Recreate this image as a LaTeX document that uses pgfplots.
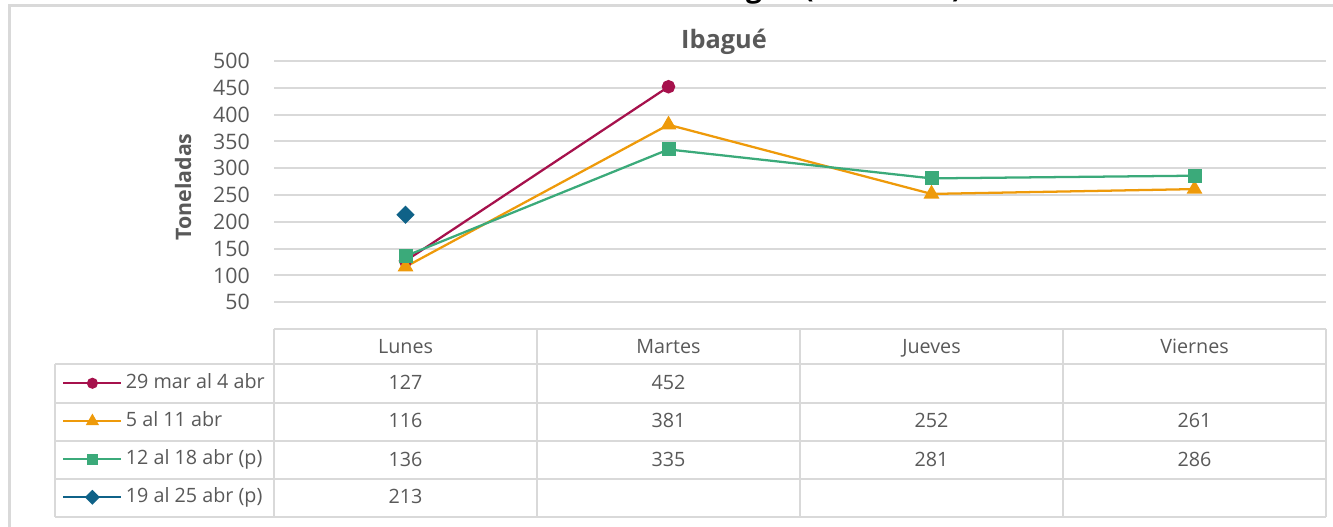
\documentclass[border=0pt]{standalone}
\usepackage{pgfplots}
\pgfplotsset{compat=1.18}
\usepackage{fontspec}
\setmainfont{Open Sans}
\definecolor{txt}{HTML}{595959}
\definecolor{gridc}{HTML}{D9D9D9}
\definecolor{cA}{HTML}{A6114C}
\definecolor{cB}{HTML}{EE9A0A}
\definecolor{cC}{HTML}{3BAA7A}
\definecolor{cD}{HTML}{0F6288}
\begin{document}
\begin{tikzpicture}
\begin{scope}[x=0.75pt,y=0.75pt]
\useasboundingbox (0,0) rectangle (1333,527);
% outer frame
\draw[gridc, line width=2.25pt] (9.5,-20) -- (9.5,521) -- (1360,521);
% cut-off main title
\node[anchor=base west, font=\bfseries\fontsize{21}{21}\selectfont, text=black, inner sep=0pt] at (702,529) {Ibagué (toneladas)};
% chart title
\node[font=\bfseries\fontsize{19}{19}\selectfont, text=txt] at (724,485) {Ibagué};
% y label
\node[rotate=90, font=\bfseries\fontsize{16}{16}\selectfont, text=txt] at (183,340) {Toneladas};
% data table grid
\draw[gridc, line width=1.5pt] (274,198) -- (1326,198);
\foreach \yy in {163,124,86,48,10} {\draw[gridc, line width=1.5pt] (55,\yy) -- (1326,\yy);}
\draw[gridc, line width=1.5pt] (55,163) -- (55,10);
\foreach \xx in {274,537,800,1063,1326} {\draw[gridc, line width=1.5pt] (\xx,198) -- (\xx,10);}
% table text
\begin{scope}[every node/.style={anchor=base, font=\fontsize{14.8}{14.8}\selectfont, text=txt, inner sep=0pt}]
\node at (405.5,173) {Lunes};
\node at (668.5,173) {Martes};
\node at (931.5,173) {Jueves};
\node at (1194.5,173) {Viernes};
\node at (405.5,137) {127};
\node at (668.5,137) {452};
\node at (405.5,99) {116};
\node at (668.5,99) {381};
\node at (931.5,99) {252};
\node at (1194.5,99) {261};
\node at (405.5,60) {136};
\node at (668.5,60) {335};
\node at (931.5,60) {281};
\node at (1194.5,60) {286};
\node at (405.5,23) {213};
\end{scope}
\end{scope}
\begin{axis}[
  at={(205.5pt,148.5pt)}, anchor=south west,
  scale only axis, width=789pt, height=201pt,
  xmin=-0.5, xmax=3.5, ymin=0, ymax=500,
  ytick={50,100,...,500}, xtick=\empty,
  axis line style={draw=none}, major tick length=0pt,
  ymajorgrids, grid style={gridc, line width=1.5pt},
  yticklabel style={font=\fontsize{16}{16}\selectfont, text=txt, inner sep=0pt, xshift=-18pt},
  /pgf/number format/assume math mode=true,
  clip=false,
  legend cell align=left,
  legend image code/.code={\draw[mark repeat=2,mark phase=2,every mark/.append style={scale=0.78}] plot coordinates {(0pt,0pt)(21.75pt,0pt)(43.5pt,0pt)};},
  legend style={at={(axis description cs:-0.2015,-0.1306)}, anchor=north west, draw=none, fill=none, inner sep=0pt, row sep=0pt,
    font=\fontsize{14.8}{14.8}\selectfont, text=txt,
    nodes={inner ysep=7pt, inner xsep=2.5pt, text height=11pt, text depth=3.5pt, anchor=west}},
]
\addplot[cA, line width=1.7pt, mark=*, mark size=4.2pt, mark options={solid}] coordinates {(0,127) (1,452)};
\addlegendentry{29 mar al 4 abr}
\addplot[cB, line width=1.7pt, mark=triangle*, mark size=5.2pt, mark options={solid}] coordinates {(0,116) (1,381) (2,252) (3,261)};
\addlegendentry{5 al 11 abr}
\addplot[cC, line width=1.7pt, mark=square*, mark size=4.4pt, mark options={solid}] coordinates {(0,136) (1,335) (2,281) (3,286)};
\addlegendentry{12 al 18 abr (p)}
\addplot[cD, line width=1.7pt, mark=square*, mark size=4pt, mark options={solid, rotate=45}] coordinates {(0,213)};
\addlegendentry{19 al 25 abr (p)}
\end{axis}
\end{tikzpicture}
\end{document}
